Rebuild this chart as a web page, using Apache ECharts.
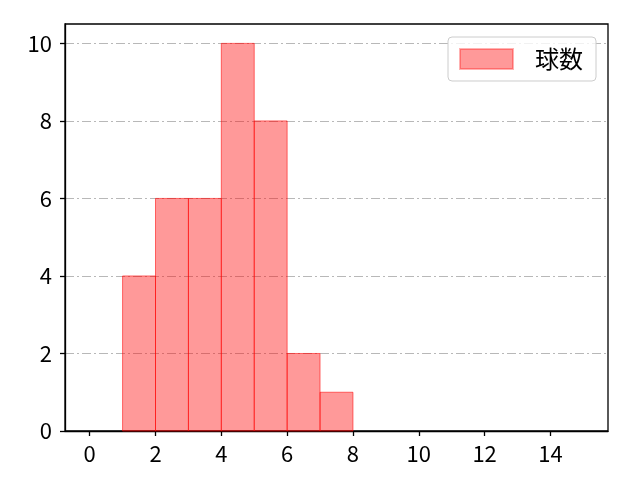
<!DOCTYPE html>
<html>
<head>
	<meta charset="utf-8">
	<title>球数</title>
	<script src="https://cdn.jsdelivr.net/npm/echarts@6/dist/echarts.min.js"></script>
	<style>
		html, body { margin: 0; padding: 0; background: #fff; }
		#main { width: 640px; height: 480px; }
	</style>
</head>
<body>
<div id="main"></div>
<script>
	// histogram bins and counts
	var binStart = [1, 2, 3, 4, 5, 6, 7];
	var binEnd = [2, 3, 4, 5, 6, 7, 8];
	var counts = [4, 6, 6, 10, 8, 2, 1];
	var xTicks = [0, 2, 4, 6, 8, 10, 12, 14];
	var yTicks = [0, 2, 4, 6, 8, 10];

	var font = '"Noto Sans CJK JP", "DejaVu Sans", sans-serif';
	var bars = binStart.map(function (s, i) { return [s, binEnd[i], counts[i]]; });

	var chart = echarts.init(document.getElementById('main'));
	chart.setOption({
		animation: false,
		grid: {
			left: 65, right: 32, top: 24, bottom: 49,
			show: true, borderColor: '#000', borderWidth: 1.3, backgroundColor: 'transparent'
		},
		legend: {
			right: 44, top: 37,
			orient: 'vertical',
			itemWidth: 53, itemHeight: 20, itemGap: 10,
			padding: [10, 13, 10, 11],
			borderColor: '#cccccc', borderWidth: 1, borderRadius: 4,
			backgroundColor: 'rgba(255,255,255,0.8)',
			textStyle: { fontFamily: font, fontSize: 24, color: '#000', padding: [0, 0, 0, 17] },
			data: [{ name: '球数', icon: 'rect', itemStyle: { borderColor: 'rgba(255,0,0,0.3)' } }]
		},
		xAxis: {
			type: 'value', min: -0.75, max: 15.75,
			axisLine: { show: true, onZero: false, lineStyle: { color: '#000', width: 1.3 } },
			axisTick: { show: true, customValues: xTicks, length: 5, lineStyle: { color: '#000', width: 1.3 } },
			axisLabel: { customValues: xTicks, fontFamily: font, fontSize: 22, color: '#000', margin: 12 },
			splitLine: { show: false }
		},
		yAxis: {
			type: 'value', min: 0, max: 10.5,
			axisLine: { show: true, onZero: false, lineStyle: { color: '#000', width: 1.3 } },
			axisTick: { show: true, customValues: yTicks, length: 5, lineStyle: { color: '#000', width: 1.3 } },
			axisLabel: { customValues: yTicks, fontFamily: font, fontSize: 22, color: '#000', margin: 13 },
			splitLine: { show: true, lineStyle: { color: '#b0b0b0', width: 0.9, type: [9, 3, 2, 3] } }
		},
		series: [{
			name: '球数',
			type: 'custom',
			itemStyle: { color: 'rgba(255,0,0,0.4)', borderColor: 'rgba(255,0,0,0.55)', borderWidth: 1 },
			encode: { x: [0, 1], y: 2 },
			renderItem: function (params, api) {
				var p0 = api.coord([api.value(0), 0]);
				var p1 = api.coord([api.value(1), api.value(2)]);
				return {
					type: 'rect',
					shape: { x: p0[0], y: p1[1], width: p1[0] - p0[0], height: p0[1] - p1[1] },
					style: api.style()
				};
			},
			data: bars
		}]
	});
</script>
</body>
</html>
